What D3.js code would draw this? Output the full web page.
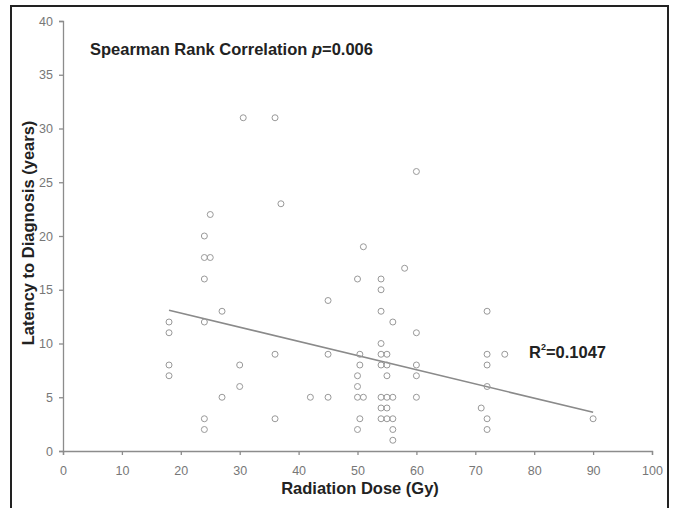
<!DOCTYPE html>
<html lang="en">

<head>
  <meta charset="UTF-8">
  <title>scatter</title>
  <style>
    body { margin: 0; background: #fff; }
    text { font-family: "Liberation Sans", Arial, sans-serif; }
  </style>
  <script src="https://cdn.jsdelivr.net/npm/d3@7"></script>
</head>

<body>
  <svg id="chart"></svg>
</body>

</html>
<script>
  // dose (Gy) and latency (years), paired by index
  const dose = [
    18, 18, 18, 18,
    24, 24, 25, 24, 24, 24, 24, 25,
    27, 27,
    30, 30, 30.6,
    36, 36, 36, 37,
    42,
    45, 45, 45,
    50, 51, 50.4, 50.4, 50, 50, 50, 51, 50.4, 50,
    54, 54, 54, 54, 54, 55, 54, 55, 55, 54, 55, 56, 54, 55, 54, 55, 56, 56, 56, 56,
    58,
    60, 60, 60, 60, 60,
    71, 72, 72, 72, 72, 72, 72, 75,
    90
  ];
  const latency = [
    12, 11, 8, 7,
    20, 18, 18, 16, 12, 3, 2, 22,
    13, 5,
    8, 6, 31,
    31, 9, 3, 23,
    5,
    14, 9, 5,
    16, 19, 9, 8, 7, 6, 5, 5, 3, 2,
    16, 15, 13, 10, 9, 9, 8, 8, 7, 5, 5, 5, 4, 4, 3, 3, 3, 2, 1, 12,
    17,
    26, 11, 8, 7, 5,
    4, 13, 9, 8, 6, 3, 2, 9,
    3
  ];
  // fitted trend line as drawn in the figure (ends of the line)
  const trendDose = [18, 90];
  const trendLatency = [13.1, 3.6];
  const xTicks = [0, 10, 20, 30, 40, 50, 60, 70, 80, 90, 100];
  const yTicks = [0, 5, 10, 15, 20, 25, 30, 35, 40];
  const rSquared = '0.1047';
  const spearmanP = '0.006';

  const width = 674, height = 508;
  const svg = d3.select('#chart').attr('width', width).attr('height', height);

  const x = d3.scaleLinear().domain([0, 100]).range([63, 652]);
  const y = d3.scaleLinear().domain([0, 40]).range([451, 21]);
  const grey = '#8c8c8c';

  svg.append('clipPath').attr('id', 'frameClip')
    .append('rect').attr('x', 12).attr('y', 7).attr('width', 652).attr('height', 510);

  const g = svg.append('g').attr('clip-path', 'url(#frameClip)');

  // x axis, minor ticks every 2
  const xAxis = g.append('g').attr('transform', `translate(0,${y(0)})`);
  xAxis.call(d3.axisBottom(x).tickValues(d3.range(0, 101, 2)).tickSize(4).tickFormat(''));
  xAxis.call(d3.axisBottom(x).tickValues(xTicks).tickSize(4).tickPadding(11));
  xAxis.selectAll('path, line').attr('stroke', grey).attr('stroke-width', 1.3);
  xAxis.selectAll('text').attr('fill', '#777').style('font-size', '12.5px');

  // y axis, minor ticks every 1
  const yAxis = g.append('g').attr('transform', `translate(${x(0)},0)`);
  yAxis.call(d3.axisLeft(y).tickValues(d3.range(0, 41, 1)).tickSize(3).tickFormat(''));
  yAxis.call(d3.axisLeft(y).tickValues(yTicks).tickSize(4).tickPadding(6));
  yAxis.selectAll('path, line').attr('stroke', grey).attr('stroke-width', 1.3);
  yAxis.selectAll('text').attr('fill', '#777').style('font-size', '12.5px');

  const trend = d3.line().x((d, i) => x(d)).y((d, i) => y(trendLatency[i]));
  g.append('path')
    .attr('d', trend(trendDose))
    .attr('fill', 'none')
    .attr('stroke', '#8a8a8a').attr('stroke-width', 1.6);

  g.append('g').selectAll('circle')
    .data(dose.map((d, i) => [d, latency[i]]))
    .join('circle')
    .attr('cx', d => x(d[0]))
    .attr('cy', d => y(d[1]))
    .attr('r', 3)
    .attr('fill', 'none')
    .attr('stroke', '#999')
    .attr('stroke-width', 1);

  const title = g.append('text')
    .attr('x', 90).attr('y', 55)
    .style('font-size', '16.5px').style('font-weight', 'bold').attr('fill', '#222');
  title.append('tspan').text('Spearman Rank Correlation ');
  title.append('tspan').style('font-style', 'italic').text('p');
  title.append('tspan').text('=' + spearmanP);

  const r2 = g.append('text')
    .attr('x', 529).attr('y', 358)
    .style('font-size', '16.5px').style('font-weight', 'bold').attr('fill', '#222');
  r2.append('tspan').text('R');
  r2.append('tspan').attr('dy', -8).style('font-size', '9px').text('2');
  r2.append('tspan').attr('dy', 8).text('=' + rSquared);

  g.append('text')
    .attr('x', 360).attr('y', 494)
    .attr('text-anchor', 'middle')
    .style('font-size', '16.5px').style('font-weight', 'bold').attr('fill', '#222')
    .text('Radiation Dose (Gy)');

  g.append('text')
    .attr('transform', 'translate(34,233) rotate(-90)')
    .attr('text-anchor', 'middle')
    .style('font-size', '16.5px').style('font-weight', 'bold').attr('fill', '#222')
    .text('Latency to Diagnosis (years)');

  // outer frame
  svg.append('rect')
    .attr('x', 11).attr('y', 6).attr('width', 657).attr('height', 520)
    .attr('fill', 'none').attr('stroke', '#222').attr('stroke-width', 2);
</script>
